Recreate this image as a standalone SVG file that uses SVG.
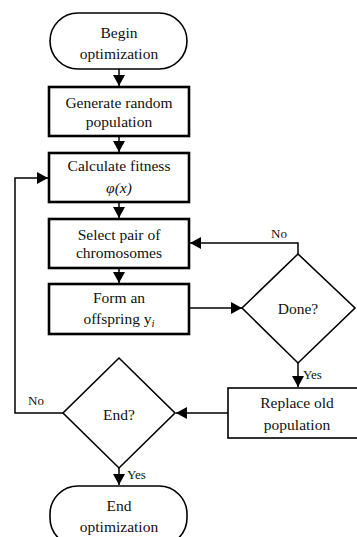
<svg xmlns="http://www.w3.org/2000/svg" width="357" height="537" viewBox="0 0 357 537" font-family="'Liberation Serif', 'Times New Roman', serif">
<defs>
<marker id="ah" markerWidth="12" markerHeight="12" refX="11" refY="6" orient="auto" markerUnits="userSpaceOnUse"><path d="M0,0 L11,6 L0,12 Z" fill="#000"/></marker>
<style>
text{font-family:'Liberation Serif','Times New Roman',serif;font-size:15.5px;fill:#111;text-anchor:middle}
.lbl{font-size:13px;text-anchor:start}
.tb{fill:#fff;stroke:#000;stroke-width:2.6}
.tn{fill:#fff;stroke:#000;stroke-width:1.6}
.c{fill:none;stroke:#000;stroke-width:1.5}
</style>
</defs>
<rect width="357" height="537" fill="#fff"/>
<g id="connectors">
<line class="c" x1="119" y1="69" x2="119" y2="86" marker-end="url(#ah)"/>
<line class="c" x1="119" y1="136" x2="119" y2="152" marker-end="url(#ah)"/>
<line class="c" x1="119" y1="202" x2="119" y2="218" marker-end="url(#ah)"/>
<line class="c" x1="119" y1="268" x2="119" y2="283" marker-end="url(#ah)"/>
<line class="c" x1="189" y1="308" x2="242" y2="308" marker-end="url(#ah)"/>
<polyline class="c" points="298,254 298,243 190,243" marker-end="url(#ah)"/>
<line class="c" x1="298" y1="363" x2="298" y2="387" marker-end="url(#ah)"/>
<line class="c" x1="228" y1="413" x2="176" y2="413" marker-end="url(#ah)"/>
<polyline class="c" points="63,413 15,413 15,178 48,178" marker-end="url(#ah)"/>
<line class="c" x1="119" y1="468" x2="119" y2="485" marker-end="url(#ah)"/>
<text class="lbl" x="271" y="238">No</text>
<text class="lbl" x="303" y="379">Yes</text>
<text class="lbl" x="28" y="405">No</text>
<text class="lbl" x="127" y="479">Yes</text>
</g>
<g id="begin">
<rect class="tn" x="50" y="13" width="137" height="56" rx="28"/>
<text x="119" y="38">Begin</text>
<text x="119" y="59">optimization</text>
</g>
<g id="generate">
<rect class="tb" x="49" y="87" width="140" height="49"/>
<text x="119" y="108">Generate random</text>
<text x="119" y="127">population</text>
</g>
<g id="fitness">
<rect class="tb" x="49" y="153" width="140" height="49"/>
<text x="119" y="171">Calculate fitness</text>
<text x="119" y="193" font-style="italic">φ(x)</text>
</g>
<g id="select">
<rect class="tb" x="49" y="219" width="140" height="49"/>
<text x="119" y="240">Select pair of</text>
<text x="119" y="258">chromosomes</text>
</g>
<g id="offspring">
<rect class="tb" x="49" y="284" width="140" height="50"/>
<text x="119" y="303">Form an</text>
<text x="119" y="324">offspring y<tspan font-style="italic" font-size="11" dy="3">i</tspan></text>
</g>
<g id="done">
<polygon class="tn" points="298,254 355,308 298,363 242,308" stroke-width="1.3"/>
<text x="298" y="314">Done?</text>
</g>
<g id="replace">
<rect class="tn" x="228" y="388" width="130" height="50"/>
<text x="297" y="408">Replace old</text>
<text x="297" y="430">population</text>
</g>
<g id="end-check">
<polygon class="tn" points="119,358 175,413 119,468 63,413" stroke-width="1.3"/>
<text x="119" y="420">End?</text>
</g>
<g id="end">
<rect class="tn" x="50" y="486" width="137" height="60" rx="28"/>
<text x="119" y="511">End</text>
<text x="119" y="532">optimization</text>
</g>
</svg>
